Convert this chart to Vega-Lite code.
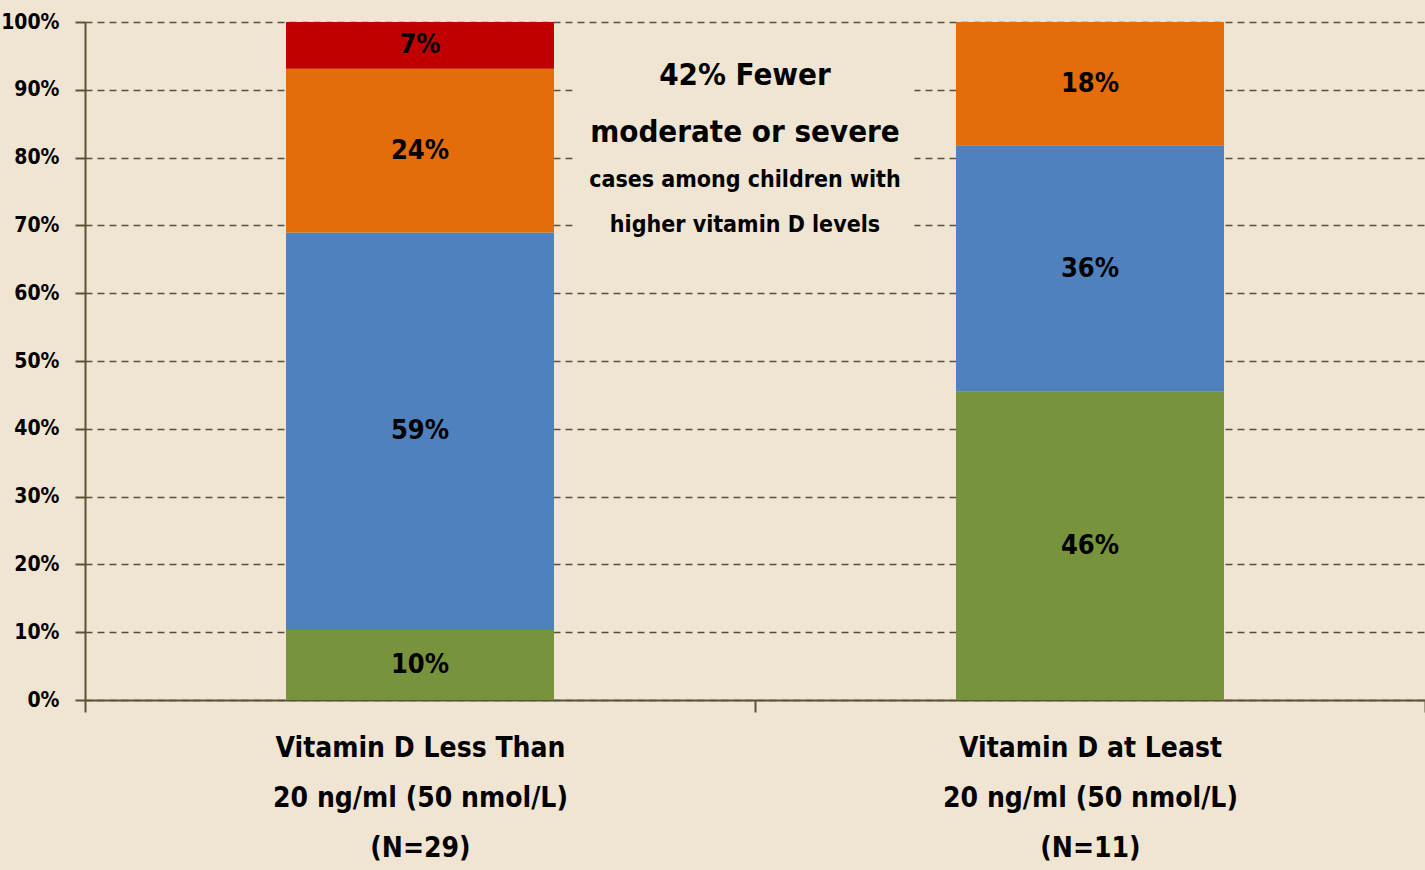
{
  "$schema": "https://vega.github.io/schema/vega-lite/v6.json",
  "width": 1340,
  "height": 678,
  "autosize": {"type": "none"},
  "padding": {"left": 85, "top": 22, "right": 0, "bottom": 170},
  "background": "#F0E5D2",
  "config": {
    "view": {"stroke": null},
    "font": "'DejaVu Sans Condensed', 'Liberation Sans Narrow', Roboto, sans-serif"
  },
  "layer": [
    {
      "data": {
        "values": [
          {"group": "Vitamin D Less Than|20 ng/ml (50 nmol/L)|(N=29)", "severity": "Mild", "rank": 1, "value": 0.1034, "label": "10%"},
          {"group": "Vitamin D Less Than|20 ng/ml (50 nmol/L)|(N=29)", "severity": "Moderate-low", "rank": 2, "value": 0.5862, "label": "59%"},
          {"group": "Vitamin D Less Than|20 ng/ml (50 nmol/L)|(N=29)", "severity": "Moderate", "rank": 3, "value": 0.2414, "label": "24%"},
          {"group": "Vitamin D Less Than|20 ng/ml (50 nmol/L)|(N=29)", "severity": "Severe", "rank": 4, "value": 0.069, "label": "7%"},
          {"group": "Vitamin D at Least|20 ng/ml (50 nmol/L)|(N=11)", "severity": "Mild", "rank": 1, "value": 0.4545, "label": "46%"},
          {"group": "Vitamin D at Least|20 ng/ml (50 nmol/L)|(N=11)", "severity": "Moderate-low", "rank": 2, "value": 0.3636, "label": "36%"},
          {"group": "Vitamin D at Least|20 ng/ml (50 nmol/L)|(N=11)", "severity": "Moderate", "rank": 3, "value": 0.1818, "label": "18%"}
        ]
      },
      "transform": [
        {"stack": "value", "groupby": ["group"], "sort": [{"field": "rank", "order": "ascending"}], "as": ["v0", "v1"]},
        {"calculate": "(datum.v0 + datum.v1) / 2", "as": "mid"}
      ],
      "encoding": {
        "x": {
          "field": "group",
          "type": "nominal",
          "sort": null,
          "scale": {"paddingInner": 0, "paddingOuter": 0},
          "axis": {
            "title": null,
            "labelAngle": 0,
            "labelExpr": "split(datum.label, '|')",
            "labelFontWeight": "bold",
            "labelFontSize": 28,
            "labelLimit": 0,
            "labelColor": "#000000",
            "labelLineHeight": 50,
            "labelPadding": 22,
            "labelBaseline": "top",
            "tickBand": "extent",
            "tickSize": 12,
            "tickWidth": 2,
            "tickColor": "#5a5436",
            "domainColor": "#5a5436",
            "domainWidth": 2,
            "grid": false
          }
        }
      },
      "layer": [
        {
          "mark": {"type": "bar", "stroke": null, "width": {"band": 0.4}},
          "encoding": {
            "y": {
              "field": "v1",
              "type": "quantitative",
              "scale": {"domain": [0, 1], "nice": false},
              "axis": {
                "title": null,
                "format": ".0%",
                "values": [0, 0.1, 0.2, 0.3, 0.4, 0.5, 0.6, 0.7, 0.8, 0.9, 1],
                "labelFontWeight": "bold",
                "labelFontSize": 21,
                "labelColor": "#000000",
                "labelPadding": 16,
                "tickSize": 10,
                "tickWidth": 2,
                "tickColor": "#5a5436",
                "domainColor": "#5a5436",
                "domainWidth": 2,
                "grid": true,
                "gridColor": "#555036",
                "gridWidth": 1.5,
                "gridDash": [7, 5]
              }
            },
            "y2": {"field": "v0"},
            "color": {
              "field": "severity",
              "type": "nominal",
              "scale": {
                "domain": ["Mild", "Moderate-low", "Moderate", "Severe"],
                "range": ["#77933C", "#4F81BD", "#E46C0A", "#C00000"]
              },
              "legend": null
            }
          }
        },
        {
          "mark": {"type": "text", "fontWeight": "bold", "fontSize": 27, "color": "#000000", "baseline": "middle", "align": "center"},
          "encoding": {
            "y": {"field": "mid", "type": "quantitative"},
            "text": {"field": "label"}
          }
        }
      ]
    },
    {
      "data": {"values": [{"x0": 0.364, "x1": 0.619, "y0": 0.66, "y1": 0.965}]},
      "layer": [
        {
          "mark": {"type": "rect", "color": "#F0E5D2"},
          "encoding": {
            "x": {"field": "x0", "type": "quantitative", "scale": {"domain": [0, 1], "nice": false}, "axis": null},
            "x2": {"field": "x1"},
            "y": {"field": "y0", "type": "quantitative"},
            "y2": {"field": "y1"}
          }
        },
        {
          "data": {"values": [{"note": "42% Fewer\nmoderate or severe"}]},
          "mark": {"type": "text", "fontWeight": "bold", "fontSize": 31, "color": "#000000", "align": "center", "baseline": "alphabetic", "lineBreak": "\n", "lineHeight": 57},
          "encoding": {
            "x": {"datum": 0.4925, "type": "quantitative"},
            "y": {"datum": 0.907, "type": "quantitative"},
            "text": {"field": "note"}
          }
        },
        {
          "data": {"values": [{"note": "cases among children with\nhigher vitamin D levels"}]},
          "mark": {"type": "text", "fontWeight": "bold", "fontSize": 23, "color": "#000000", "align": "center", "baseline": "alphabetic", "lineBreak": "\n", "lineHeight": 45},
          "encoding": {
            "x": {"datum": 0.4925, "type": "quantitative"},
            "y": {"datum": 0.757, "type": "quantitative"},
            "text": {"field": "note"}
          }
        }
      ]
    }
  ],
  "resolve": {"scale": {"x": "independent"}, "axis": {"x": "independent"}}
}
